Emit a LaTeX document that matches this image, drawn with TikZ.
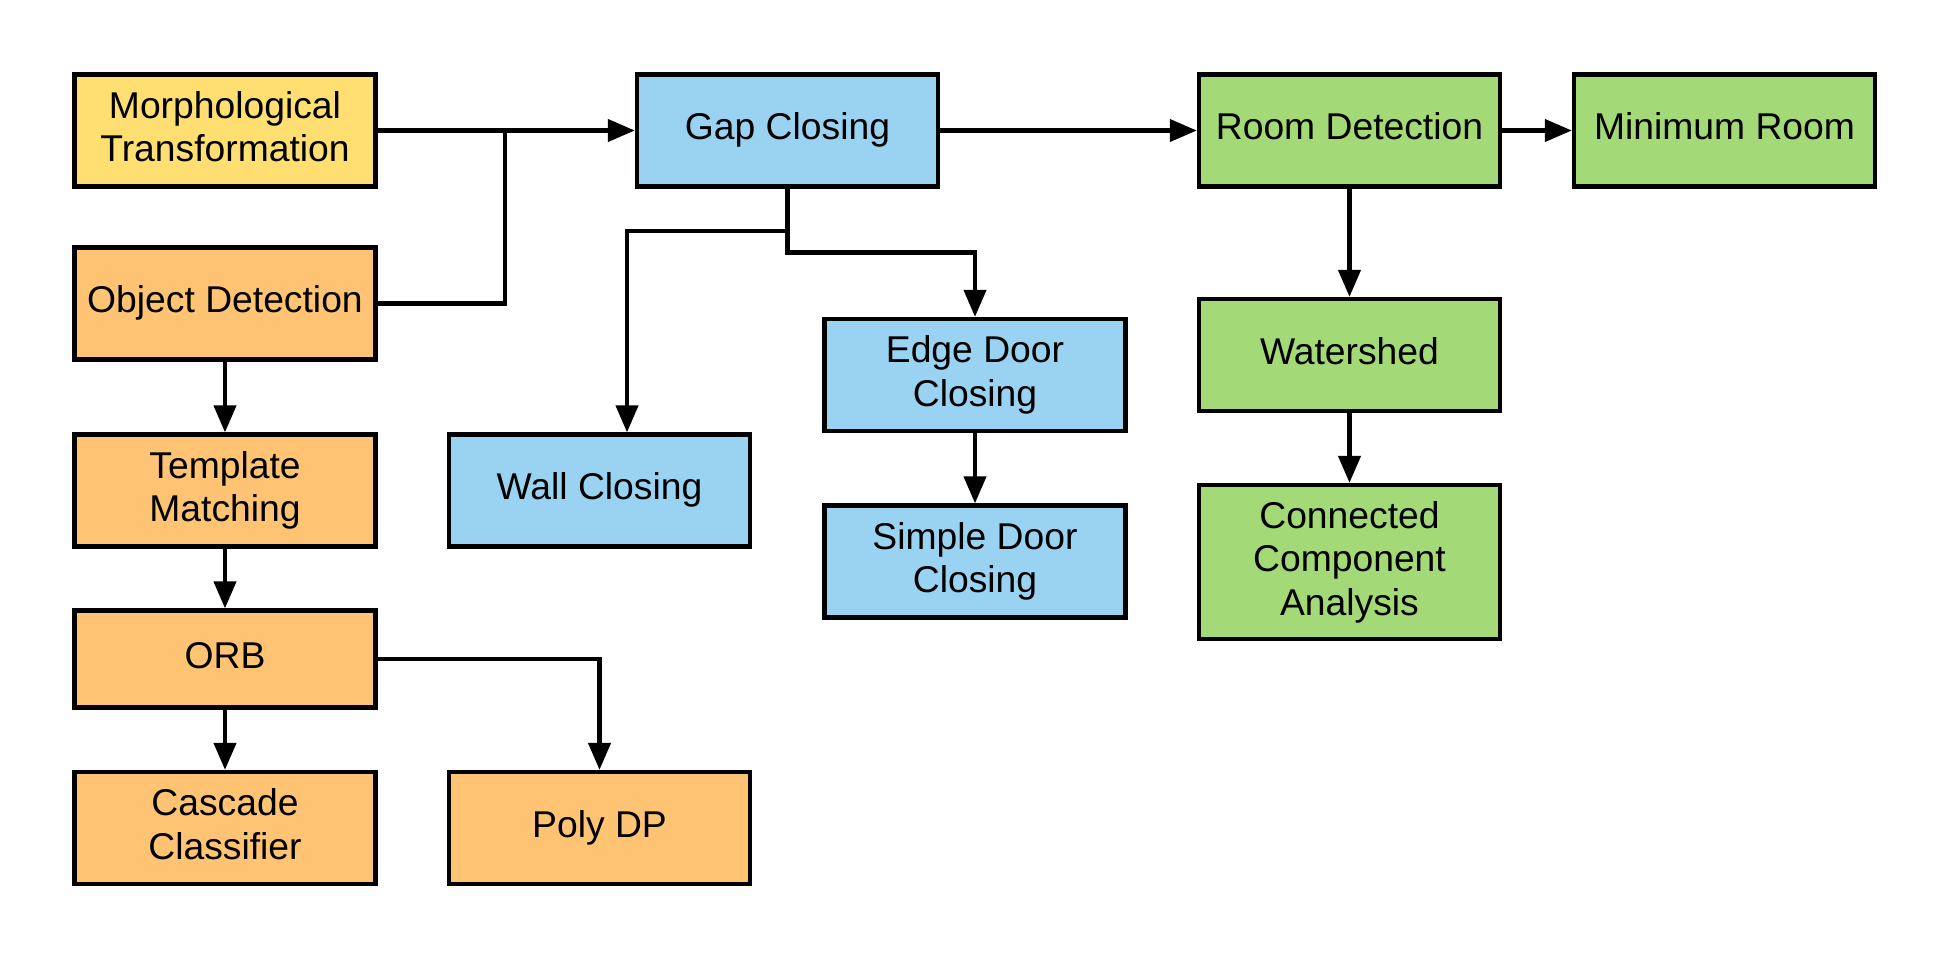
\documentclass[tikz,border=0pt]{standalone}
\usepackage{fontspec}
\setmainfont{Liberation Sans}
\usetikzlibrary{arrows.meta}

\definecolor{morphyellow}{HTML}{FFDF71}
\definecolor{objorange}{HTML}{FFC374}
\definecolor{gapblue}{HTML}{9AD2F2}
\definecolor{roomgreen}{HTML}{A3D977}

\tikzset{
    box/.style={draw,line width=1.2pt,minimum width=3.01cm,minimum height=1.12cm,
        inner sep=0pt,align=center,font=\fontsize{10.6}{12.4}\selectfont},
    oneline/.style={text height=0.73em,text depth=0.21em},
    link/.style={line width=1.2pt}
}

\begin{document}
\begin{tikzpicture}[x=0.01cm,y=-0.01cm,>={Triangle[length=0.27cm,width=0.22cm]}]
    \useasboundingbox (0,0) rectangle (1950,960);

    % 左边一列 object detection
    \node[box,fill=morphyellow] (morph) at (225,130.5) {Morphological\\Transformation\vphantom{g}};
    \node[box,oneline,fill=objorange] (obj) at (225,303.5) {Object Detection};
    \node[box,fill=objorange] (tmpl) at (225,490.5) {Template\\Matching};
    \node[box,oneline,fill=objorange,minimum height=0.97cm] (orb) at (225,659) {ORB};
    \node[box,fill=objorange] (cascade) at (225,828) {Cascade\\Classifier\vphantom{g}};
    \node[box,oneline,fill=objorange] (poly) at (599.5,828) {Poly DP};

    % gap closing
    \node[box,oneline,fill=gapblue] (gap) at (787.5,130.5) {Gap Closing};
    \node[box,oneline,fill=gapblue] (wall) at (599.5,490.5) {Wall Closing};
    \node[box,fill=gapblue] (edge) at (975,375) {Edge Door\\Closing};
    \node[box,fill=gapblue] (simple) at (975,561.5) {Simple Door\\Closing};

    % room detection
    \node[box,oneline,fill=roomgreen] (room) at (1349.5,130.5) {Room Detection};
    \node[box,oneline,fill=roomgreen] (minroom) at (1724.5,130.5) {Minimum Room};
    \node[box,oneline,fill=roomgreen] (water) at (1349.5,355) {Watershed};
    \node[box,fill=roomgreen,minimum height=1.54cm] (cca) at (1349.5,562) {Connected\\Component\\Analysis};

    \coordinate (merge) at (505,130.5);
    \coordinate (split) at (787.5,231);
    \coordinate (bend) at (787.5,252.5);

    \draw[link,->] (morph.east)--(gap.west);
    \draw[link] (obj.east) -| (merge);
    \draw[link] (gap.south)--(split);
    \draw[link,->] (split) -| ([xshift=0.275cm]wall.north);
    \draw[link,->] (split)--(bend) -| (edge.north);
    \draw[link,->] (edge.south)--(simple.north);
    \draw[link,->] (gap.east)--(room.west);
    \draw[link,->] (room.east)--(minroom.west);
    \draw[link,->] (room.south)--(water.north);
    \draw[link,->] (water.south)--(cca.north);
    \draw[link,->] (obj.south)--(tmpl.north);
    \draw[link,->] (tmpl.south)--(orb.north);
    \draw[link,->] (orb.south)--(cascade.north);
    \draw[link,->] (orb.east) -| (poly.north);
\end{tikzpicture}
\end{document}
